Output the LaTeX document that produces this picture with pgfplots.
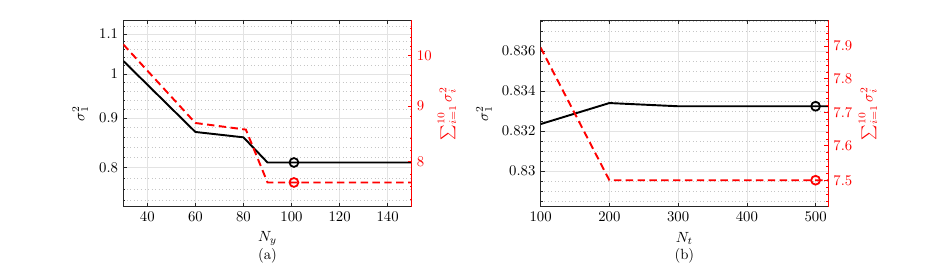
\documentclass[border=0pt]{standalone}
\usepackage{fontspec}
\usepackage{pgfplots}
\pgfplotsset{compat=1.18}
\definecolor{axgray}{RGB}{38,38,38}
\definecolor{mred}{RGB}{255,0,0}
\begin{document}
\begin{tikzpicture}
\path[use as bounding box] (0,0) rectangle (639.9bp,181.8bp);
% ---------- panel (a) ----------
\begin{axis}[
  scale only axis, anchor=south west, clip mode=individual,
  at={(83.3bp,42.1bp)}, width=194.9bp, height=126.2bp,
  ymode=log,
  axis y line*=left,
  tick align=inside,
  major tick length=2.7bp, minor tick length=1.4bp,
  /pgf/number format/assume math mode=true,
  axis line style={axgray, line width=0.45bp},
  tick style={axgray, line width=0.35bp},
  xmajorgrids, ymajorgrids, yminorgrids,
  major grid style={gray!22, solid, line width=0.4bp},
  minor grid style={gray!45, dotted, line width=0.4bp},
  xmin=30, xmax=150, ymin=0.7291, ymax=1.137,
  xtick={40,60,80,100,120,140},
  ytick={0.8,0.9,1,1.1}, yticklabels={0.8,0.9,1,1.1},
  minor ytick={0.74,0.76,0.78,0.82,0.84,0.86,0.88,0.92,0.94,0.96,0.98,1.02,1.04,1.06,1.08,1.12},
  ylabel={$\sigma_1^2$},
  ylabel style={at={(axis description cs:-0.149,0.5)}, anchor=center},
  xlabel={$N_y$},
  xlabel style={at={(axis description cs:0.5,-0.168)}, anchor=center},
]
\addplot[black, line width=1.3bp] coordinates {(30,1.0315) (60,0.871) (80,0.860) (90,0.810) (150,0.810)};
\addplot[black, only marks, mark=o, mark size=3bp, line width=1.2bp] coordinates {(101,0.810)};
\node at (axis description cs:0.5,-0.264) {(a)};
\end{axis}
\begin{axis}[
  scale only axis, anchor=south west,
  at={(83.3bp,42.1bp)}, width=194.9bp, height=126.2bp,
  ymode=log,
  axis y line*=right, axis x line=none,
  tick align=inside,
  major tick length=2.7bp, minor tick length=1.4bp,
  y axis line style={mred, line width=0.45bp},
  ytick style={mred, line width=0.35bp},
  yticklabel style={text=mred},
  xmin=30, xmax=150, ymin=7.278, ymax=10.781,
  ytick={8,9,10}, yticklabels={8,9,10},
  minor ytick={7.4,7.6,7.8,8.2,8.4,8.6,8.8,9.2,9.4,9.6,9.8,10.2,10.4,10.6},
  ylabel={$\sum_{i=1}^{10}\sigma_i^2$},
  ylabel style={at={(axis description cs:1.122,0.5)}, anchor=center, text=mred},
]
\addplot[mred, line width=1.3bp, dash pattern=on 5bp off 3bp] coordinates {(30,10.24) (60,8.68) (81,8.56) (90,7.66) (150,7.66)};
\addplot[mred, only marks, mark=o, mark size=3bp, line width=1.2bp] coordinates {(101,7.66)};
\end{axis}
% ---------- panel (b) ----------
\begin{axis}[
  scale only axis, anchor=south west, clip mode=individual,
  at={(365.3bp,42.1bp)}, width=194.3bp, height=126.2bp,
  axis y line*=left,
  tick align=inside,
  major tick length=2.7bp, minor tick length=1.4bp,
  /pgf/number format/assume math mode=true,
  axis line style={axgray, line width=0.45bp},
  tick style={axgray, line width=0.35bp},
  xmajorgrids, ymajorgrids, yminorgrids,
  major grid style={gray!22, solid, line width=0.4bp},
  minor grid style={gray!45, dotted, line width=0.4bp},
  xmin=100, xmax=518.3, ymin=0.82822, ymax=0.83755,
  xtick={100,200,300,400,500},
  ytick={0.83,0.832,0.834,0.836}, yticklabels={0.83,0.832,0.834,0.836},
  minor ytick={0.8285,0.829,0.8295,0.8305,0.831,0.8315,0.8325,0.833,0.8335,0.8345,0.835,0.8355,0.8365,0.837,0.8375},
  scaled y ticks=false,
  ylabel={$\sigma_1^2$},
  ylabel style={at={(axis description cs:-0.197,0.5)}, anchor=center},
  xlabel={$N_t$},
  xlabel style={at={(axis description cs:0.5,-0.168)}, anchor=center},
]
\addplot[black, line width=1.3bp] coordinates {(100,0.83235) (200,0.8334) (300,0.83324) (520,0.83324)};
\addplot[black, only marks, mark=o, mark size=3bp, line width=1.2bp] coordinates {(500,0.83324)};
\node at (axis description cs:0.5,-0.264) {(b)};
\end{axis}
\begin{axis}[
  scale only axis, anchor=south west,
  at={(365.3bp,42.1bp)}, width=194.3bp, height=126.2bp,
  ymode=log,
  axis y line*=right, axis x line=none,
  tick align=inside,
  major tick length=2.7bp, minor tick length=1.4bp,
  y axis line style={mred, line width=0.45bp},
  ytick style={mred, line width=0.35bp},
  yticklabel style={text=mred},
  xmin=100, xmax=518.3, ymin=7.423, ymax=7.979,
  ytick={7.5,7.6,7.7,7.8,7.9}, yticklabels={7.5,7.6,7.7,7.8,7.9},
  minor ytick={7.44,7.46,7.48,7.52,7.54,7.56,7.58,7.62,7.64,7.66,7.68,7.72,7.74,7.76,7.78,7.82,7.84,7.86,7.88,7.92,7.94,7.96},
  ylabel={$\sum_{i=1}^{10}\sigma_i^2$},
  ylabel style={at={(axis description cs:1.138,0.5)}, anchor=center, text=mred},
]
\addplot[mred, line width=1.3bp, dash pattern=on 5bp off 3bp] coordinates {(100,7.895) (200,7.5) (520,7.5)};
\addplot[mred, only marks, mark=o, mark size=3bp, line width=1.2bp] coordinates {(500,7.5)};
\end{axis}
\end{tikzpicture}
\end{document}
